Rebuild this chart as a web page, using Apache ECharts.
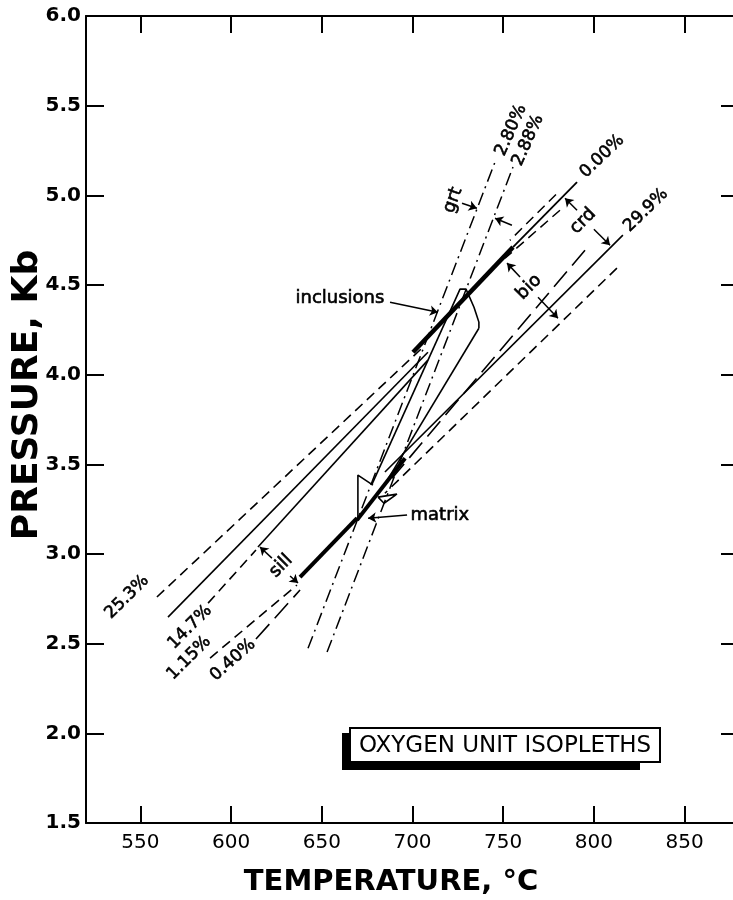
<!DOCTYPE html>
<html><head><meta charset="utf-8">
<script src="https://cdn.jsdelivr.net/npm/echarts@6/dist/echarts.min.js"></script>
<style>html,body{margin:0;padding:0;background:#fff;overflow:hidden}#c{width:739px;height:900px}</style>
</head><body><div id="c"></div>
<script>
// ---- axis ticks ----
const xTicks = [550, 600, 650, 700, 750, 800, 850];
const xRange = [520, 880];
const yRange = [1.5, 6.0];

// ---- isopleth lines (T in °C, P in kb) ----
const iso253 = [[559.1, 2.760], [706.9, 4.164]];
const solidUpperLeft = [[565.2, 2.648], [708.5, 4.125]];
const iso147Dashed = [[587.3, 2.726], [613.7, 3.022]];
const iso147Solid = [[614.8, 3.039], [708.5, 4.081]];
const inclusionBundle = [[700.3, 4.125], [755.4, 4.711]];
const iso000 = [[755.4, 4.711], [790.7, 5.073]];
const crdDashUpper = [[779.1, 5.005], [753.7, 4.749]];
const crdDashLower = [[781.3, 4.917], [751.0, 4.649]];
const iso299 = [[816.0, 4.778], [684.8, 3.457]];
const dashBelow299 = [[812.7, 4.594], [684.8, 3.339]];
const longDashMid = [[795.1, 4.694], [688.7, 3.422]];
const matrixBundleUpper = [[695.9, 3.534], [669.4, 3.189]];
const matrixBundleLower = [[638.0, 2.871], [669.4, 3.200]];
const iso115 = [[588.4, 2.420], [636.3, 2.827]];
const iso040 = [[613.7, 2.526], [638.0, 2.799]];
const grt280 = [[642.4, 2.474], [745.5, 5.186]];
const grt288 = [[652.9, 2.453], [755.4, 5.158]];
const wedgeLeft = [[719.0, 4.315], [677.7, 3.390]];
const wedgeRight = [[736.6, 4.259], [684.8, 3.390]];
const inclusionOutline = [[719.0, 4.315], [726.2, 4.477], [729.5, 4.477], [731.7, 4.427], [733.9, 4.376], [735.0, 4.343], [736.6, 4.293], [736.6, 4.259]];
const matrixFlag = [[669.9, 3.200], [669.9, 3.440], [678.2, 3.384]];
const matrixTri = [[681.0, 3.317], [691.4, 3.334], [684.3, 3.283], [681.0, 3.317]];

// ---- brackets and pointer arrows [from, to] ----
const arrowSegs = [
  [[790.7, 4.917], [784.1, 4.984]], [[800.0, 4.811], [808.9, 4.722]],   // crd
  [[759.3, 4.544], [752.1, 4.622]], [[769.2, 4.432], [780.2, 4.315]],   // bio
  [[622.5, 2.977], [615.9, 3.039]], [[632.5, 2.877], [636.9, 2.838]],   // sill
  [[727.3, 4.956], [735.5, 4.928]], [[754.8, 4.833], [745.5, 4.872]],   // grt
  [[687.6, 4.404], [714.0, 4.348]],                                   // inclusions
  [[697.0, 3.217], [675.5, 3.200]]                                    // matrix
];

// ---- text labels ----
const isoLabels = ['25.3%', '14.7%', '1.15%', '0.40%', '0.00%', '29.9%', '2.80%', '2.88%'];
const isoLabelAt = [[542.6, 2.760], [577.3, 2.592], [576.8, 2.420], [601.0, 2.409], [804.5, 5.218], [828.7, 4.917], [754.3, 5.363], [763.7, 5.307]];
const mineralLabels = ['grt', 'crd', 'bio', 'sill'];
const mineralLabelAt = [[722.3, 4.973], [794.0, 4.856], [764.2, 4.488], [627.5, 2.933]];
const pointLabels = ['inclusions', 'matrix'];
const pointLabelAt = [[660.0, 4.427], [715.1, 3.217]];

// ---- styles ----
const DASH = [10, 6], LONGDASH = [20, 8], DASHDOT = [13, 5, 2, 5];
const isoRot = [45, 45, 45, 42, 44, 44, 66, 66];
const minRot = [70, 45, 45, 45];

function seg(data, width, type) {
  return { type: 'line', data: data, symbol: 'none', showSymbol: false, silent: true,
    lineStyle: { color: '#000', width: width, type: type || 'solid' }, z: 3 };
}
function textSeries(pos, texts, rots, size) {
  return { type: 'scatter', symbolSize: 1, silent: true, z: 5,
    itemStyle: { color: 'rgba(0,0,0,0)' },
    label: { show: true, position: 'inside', color: '#000', opacity: 1, fontSize: size, fontFamily: 'DejaVu Sans',
      textBorderColor: '#000', textBorderWidth: 0.6 },
    data: pos.map((p, i) => ({ value: p, label: { formatter: texts[i], rotate: rots ? rots[i] : 0 } })) };
}

const series = [
  seg(iso253, 1.6, DASH),
  seg(solidUpperLeft, 1.6),
  seg(iso147Dashed, 1.6, DASH),
  seg(iso147Solid, 1.6),
  seg(inclusionBundle, 4.5),
  seg(iso000, 1.8),
  seg(crdDashUpper, 1.5, DASH),
  seg(crdDashLower, 1.5, DASH),
  seg(iso299, 1.6),
  seg(dashBelow299, 1.6, DASH),
  seg(longDashMid, 1.6, LONGDASH),
  seg(matrixBundleUpper, 4),
  seg(matrixBundleLower, 4),
  seg(iso115, 1.6, DASH),
  seg(iso040, 1.6, LONGDASH),
  seg(grt280, 1.5, DASHDOT),
  seg(grt288, 1.5, DASHDOT),
  seg(wedgeLeft, 1.6),
  seg(wedgeRight, 1.6),
  seg(inclusionOutline, 1.6),
  seg(matrixFlag, 1.6),
  seg(matrixTri, 1.6),
  { type: 'lines', coordinateSystem: 'cartesian2d', silent: true, z: 4,
    symbol: ['none', 'arrow'], symbolSize: 8,
    lineStyle: { color: '#000', width: 1.5, opacity: 1 },
    data: arrowSegs.map(s => ({ coords: s })) },
  textSeries(isoLabelAt, isoLabels, isoRot, 17),
  textSeries(mineralLabelAt, mineralLabels, minRot, 18),
  textSeries(pointLabelAt, pointLabels, null, 18)
];

const chart = echarts.init(document.getElementById('c'), null, { renderer: 'canvas' });
const axisLine = { show: true, lineStyle: { color: '#000', width: 2 } };
chart.setOption({
  animation: false,
  backgroundColor: '#fff',
  grid: { left: 86, top: 16, bottom: 77, right: 0 },
  xAxis: [
    { type: 'value', min: xRange[0], max: xRange[1], position: 'bottom',
      axisLine: axisLine, splitLine: { show: false },
      axisTick: { show: true, inside: true, length: 17, customValues: xTicks, lineStyle: { color: '#000', width: 2 } },
      axisLabel: { show: true, customValues: xTicks, margin: 10, color: '#000', fontSize: 20, fontFamily: 'DejaVu Sans' } },
    { type: 'value', min: xRange[0], max: xRange[1], position: 'top',
      axisLine: axisLine, splitLine: { show: false },
      axisTick: { show: true, inside: true, length: 17, customValues: xTicks, lineStyle: { color: '#000', width: 2 } },
      axisLabel: { show: false } }
  ],
  yAxis: [
    { type: 'value', min: yRange[0], max: yRange[1], interval: 0.5, position: 'left',
      axisLine: axisLine, splitLine: { show: false },
      axisTick: { show: true, inside: true, length: 18, lineStyle: { color: '#000', width: 2 } },
      axisLabel: { margin: 5, color: '#000', fontSize: 20, fontWeight: 'bold', fontFamily: 'DejaVu Sans',
        formatter: v => v.toFixed(1) } },
    { type: 'value', min: yRange[0], max: yRange[1], interval: 0.5, position: 'right',
      axisLine: axisLine, splitLine: { show: false },
      axisTick: { show: true, inside: true, length: 18, lineStyle: { color: '#000', width: 2 } },
      axisLabel: { show: false } }
  ],
  graphic: [
    { type: 'text', x: 28, y: 395, rotation: Math.PI / 2,
      style: { text: 'PRESSURE, Kb', font: 'bold 36px "DejaVu Sans"', fill: '#000', align: 'center', verticalAlign: 'middle' } },
    { type: 'text', x: 391, y: 882,
      style: { text: 'TEMPERATURE, °C', font: 'bold 29px "DejaVu Sans"', fill: '#000', align: 'center', verticalAlign: 'middle' } },
    { type: 'rect', shape: { x: 342, y: 733, width: 298, height: 37 }, style: { fill: '#000' }, z: 10 },
    { type: 'rect', shape: { x: 350, y: 728, width: 310, height: 34 }, style: { fill: '#fff', stroke: '#000', lineWidth: 2 }, z: 11 },
    { type: 'text', x: 505, y: 746, z: 12,
      style: { text: 'OXYGEN UNIT ISOPLETHS', font: '23px "DejaVu Sans"', fill: '#000', align: 'center', verticalAlign: 'middle' } }
  ],
  series: series
});
</script></body></html>
